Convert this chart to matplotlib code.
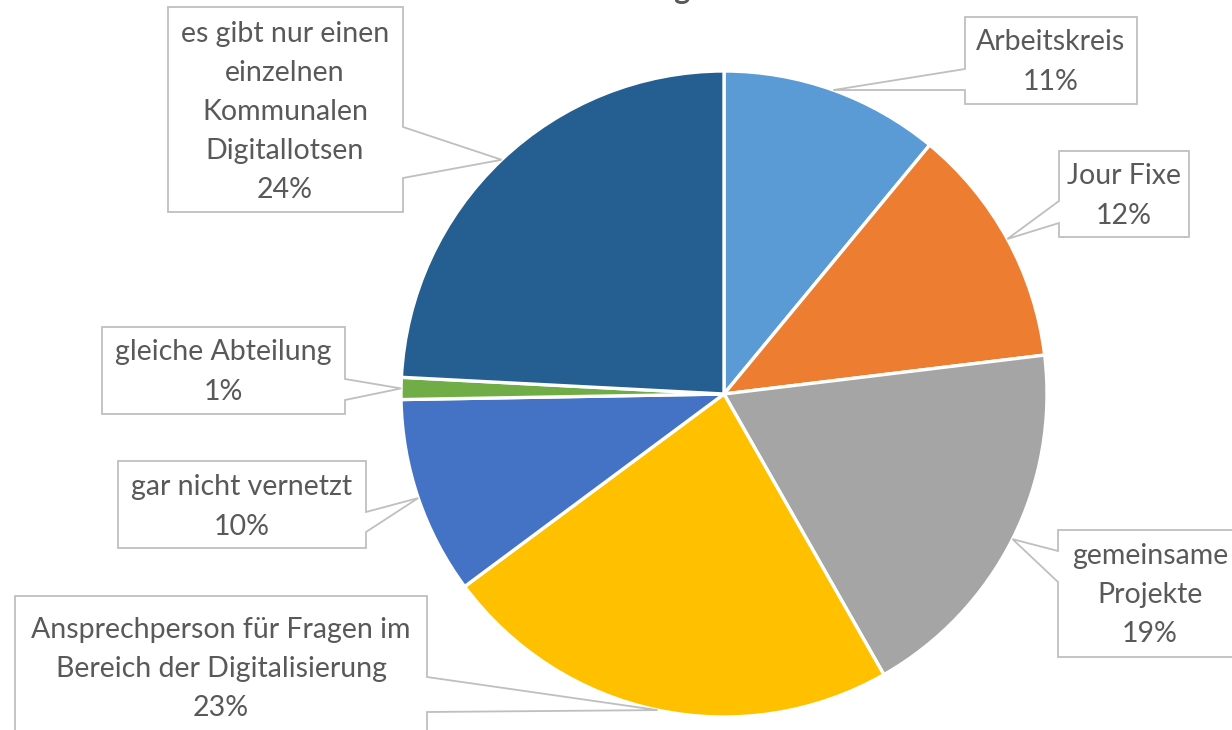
import matplotlib.pyplot as plt
from matplotlib.patches import Polygon
import math

# data: number of answers per category (percent labels are derived)
categories = ["Arbeitskreis", "Jour Fixe", "gemeinsame\nProjekte",
              "Ansprechperson für Fragen im\nBereich der Digitalisierung",
              "gar nicht vernetzt", "gleiche Abteilung",
              "es gibt nur einen\neinzelnen\nKommunalen\nDigitallotsen"]
counts = [10, 11, 17, 21, 9, 1, 22]
colors = ["#5B9BD5", "#ED7D31", "#A5A5A5", "#FFC000", "#4472C4", "#70AD47", "#255E91"]
title = "Vernetzung"

W, H = 1232, 730
fig = plt.figure(figsize=(W / 100, H / 100), dpi=100)
plt.rcParams['font.family'] = ['Lato', 'DejaVu Sans']

# pie axes: centre (724, 394) px, radius 323 px
cx, cy, r = 724, 394, 323
ax = fig.add_axes([(cx - r) / W, (H - cy - r) / H, 2 * r / W, 2 * r / H])
wedges, _ = ax.pie(counts, colors=colors, startangle=90, counterclock=False,
                   wedgeprops=dict(edgecolor="white", linewidth=2.4))
ax.set_xlim(-1, 1)
ax.set_ylim(-1, 1)

# overlay in pixel coordinates for the callout labels
ov = fig.add_axes([0, 0, 1, 1], zorder=5)
ov.set_xlim(0, W)
ov.set_ylim(H, 0)
ov.axis("off")
ov.patch.set_alpha(0)

# box layout: (x0, y0, x1, y1, side, base1, base2, text x, text y)
boxes = [
    (965, 17, 1137, 104, "left", 69, 90, 1051, 62),
    (1059, 151, 1189, 237, "left", 201, 223, 1124, 196),
    (1058, 530, 1245, 657, "left", 551, 582, 1150, 595),
    (15, 596, 427, 745, "right", 677, 712, 221, 669),
    (118, 461, 366, 548, "right", 512, 532, 242, 507),
    (102, 327, 345, 414, "right", 379, 400, 223, 372),
    (168, 7, 403, 212, "right", 127, 178, 285, 112),
]

total = sum(counts)
for w, cat, n, b in zip(wedges, categories, counts, boxes):
    x0, y0, x1, y1, side, b1, b2, tx, ty = b
    mid = math.radians((w.theta1 + w.theta2) / 2)
    disp = ax.transData.transform((math.cos(mid), math.sin(mid)))
    px, py = ov.transData.inverted().transform(disp)
    if side == "left":
        pts = [(x0, y0), (x1, y0), (x1, y1), (x0, y1), (x0, b2), (px, py), (x0, b1)]
    else:
        pts = [(x0, y0), (x1, y0), (x1, b1), (px, py), (x1, b2), (x1, y1), (x0, y1)]
    ov.add_patch(Polygon(pts, closed=True, facecolor="white", edgecolor="#BFBFBF",
                         linewidth=1.3, joinstyle="miter"))
    pct = round(100 * n / total)
    ov.text(tx, ty, f"{cat}\n{pct}%", ha="center", va="center", fontsize=20.5,
            color="#595959", linespacing=1.62)

# title sits above the visible area, only its descender shows
ov.text(690, -1, title, ha="right", va="baseline", fontsize=22,
        fontweight="bold", color="#595959", clip_on=False)

fig.savefig("out.png", dpi=100)
